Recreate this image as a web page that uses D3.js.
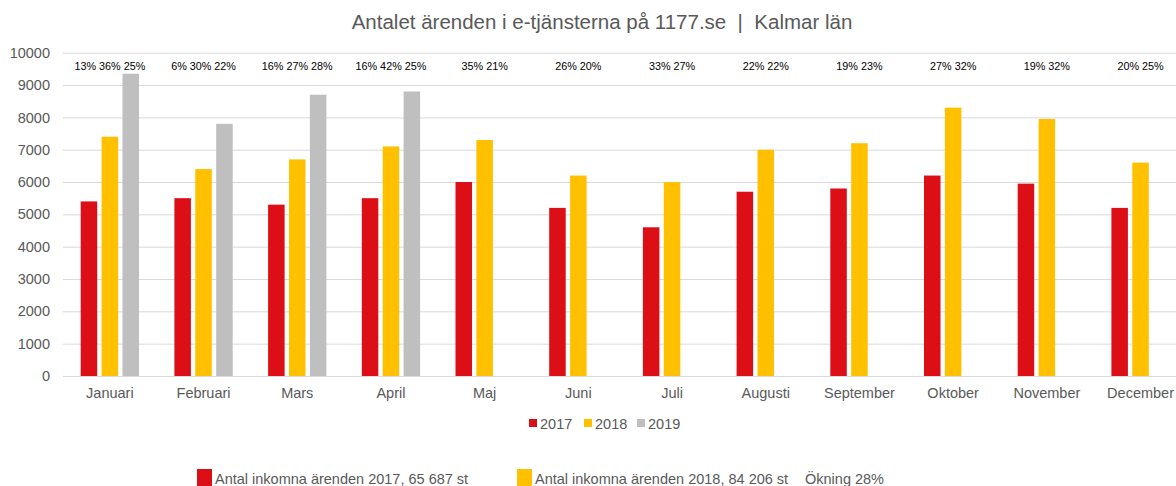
<!DOCTYPE html>
<html>
<head>
<meta charset="utf-8">
<script src="https://cdn.jsdelivr.net/npm/d3@7"></script>
<style>
  body { margin: 0; background: #fff; }
  svg { display: block; font-family: "Liberation Sans", Arial, sans-serif; }
</style>
</head>
<body>
<div id="chart"></div>
<script>
// data
const months = ["Januari","Februari","Mars","April","Maj","Juni","Juli","Augusti","September","Oktober","November","December"];
const years = ["2017","2018","2019"];
const values2017 = [5400,5500,5300,5500,6000,5200,4600,5700,5800,6200,5950,5200];
const values2018 = [7400,6400,6700,7100,7300,6200,6000,7000,7200,8300,7950,6600];
const values2019 = [9350,7800,8700,8800,null,null,null,null,null,null,null,null];
const pctLabels = ["13% 36% 25%","6% 30% 22%","16% 27% 28%","16% 42% 25%","35% 21%","26% 20%","33% 27%","22% 22%","19% 23%","27% 32%","19% 32%","20% 25%"];
const yTicks = [0,1000,2000,3000,4000,5000,6000,7000,8000,9000,10000];
const colors = {"2017": "#dc0f17", "2018": "#ffc000", "2019": "#bfbfbf"};

const width = 1176, height = 486;
const plotLeft = 63, step = 93.7, plotTop = 52.7, plotBottom = 376;

const series = [values2017, values2018, values2019];
const rows = [];
months.forEach((m, i) => years.forEach((yr, j) => {
  if (series[j][i] != null) rows.push({month: m, year: yr, value: series[j][i]});
}));

const svg = d3.select("#chart").append("svg")
    .attr("width", width)
    .attr("height", height);

const x = d3.scaleBand()
    .domain(months)
    .range([plotLeft, plotLeft + step * months.length]);

const xInner = d3.scaleBand()
    .domain(years)
    .range([17.7, step - 17.7])
    .paddingInner(0.21);

const y = d3.scaleLinear()
    .domain([0, 10000])
    .range([plotBottom, plotTop]);

// title
svg.append("text")
    .attr("x", 602)
    .attr("y", 29)
    .attr("text-anchor", "middle")
    .attr("fill", "#595959")
    .attr("font-size", 20.5)
    .style("white-space", "pre")
    .text("Antalet ärenden i e-tjänsterna på 1177.se  |  Kalmar län");

// y axis + gridlines
svg.append("g")
    .attr("transform", `translate(${plotLeft},0)`)
    .call(d3.axisLeft(y).tickValues(yTicks).tickFormat(d3.format("d")).tickSize(-(width - plotLeft)).tickPadding(13))
    .call(g => g.select(".domain").remove())
    .call(g => g.selectAll(".tick line").attr("stroke", "#d9d9d9"))
    .call(g => g.selectAll(".tick text")
        .attr("fill", "#595959")
        .attr("font-size", 14.5)
        .attr("font-family", "Liberation Sans, Arial, sans-serif"));

// bars
svg.append("g")
  .selectAll("rect")
  .data(rows)
  .join("rect")
    .attr("x", d => x(d.month) + xInner(d.year))
    .attr("y", d => y(d.value))
    .attr("width", xInner.bandwidth())
    .attr("height", d => y(0) - y(d.value))
    .attr("fill", d => colors[d.year]);

// x axis
svg.append("g")
    .attr("transform", `translate(0,${plotBottom})`)
    .call(d3.axisBottom(x).tickSize(0).tickPadding(12))
    .call(g => g.select(".domain").attr("stroke", "#d9d9d9"))
    .call(g => g.selectAll(".tick text")
        .attr("fill", "#595959")
        .attr("font-size", 14.5)
        .attr("font-family", "Liberation Sans, Arial, sans-serif"));

// percentage labels
svg.append("g")
    .attr("font-size", 10.8)
    .attr("fill", "#000")
  .selectAll("text")
  .data(pctLabels)
  .join("text")
    .attr("x", (d, i) => x(months[i]) + x.bandwidth() / 2)
    .attr("y", 70)
    .attr("text-anchor", "middle")
    .text(d => d);

// series legend
const legend = svg.append("g").attr("font-size", 14.5).attr("fill", "#595959");
const legendX = [529, 584, 637];
years.forEach((yr, i) => {
  legend.append("rect")
      .attr("x", legendX[i]).attr("y", 419)
      .attr("width", 8).attr("height", 8)
      .attr("fill", colors[yr]);
  legend.append("text")
      .attr("x", legendX[i] + 11).attr("y", 429)
      .text(yr);
});

// totals legend
const totals = svg.append("g").attr("font-size", 14.5).attr("fill", "#595959");
totals.append("rect").attr("x", 197).attr("y", 469).attr("width", 15).attr("height", 17).attr("fill", colors["2017"]);
totals.append("text").attr("x", 215).attr("y", 484).text("Antal inkomna ärenden 2017, 65 687 st");
totals.append("rect").attr("x", 517).attr("y", 469).attr("width", 15).attr("height", 17).attr("fill", colors["2018"]);
totals.append("text").attr("x", 535).attr("y", 484).text("Antal inkomna ärenden 2018, 84 206 st");
totals.append("text").attr("x", 805).attr("y", 484).text("Ökning 28%");
</script>
</body>
</html>
